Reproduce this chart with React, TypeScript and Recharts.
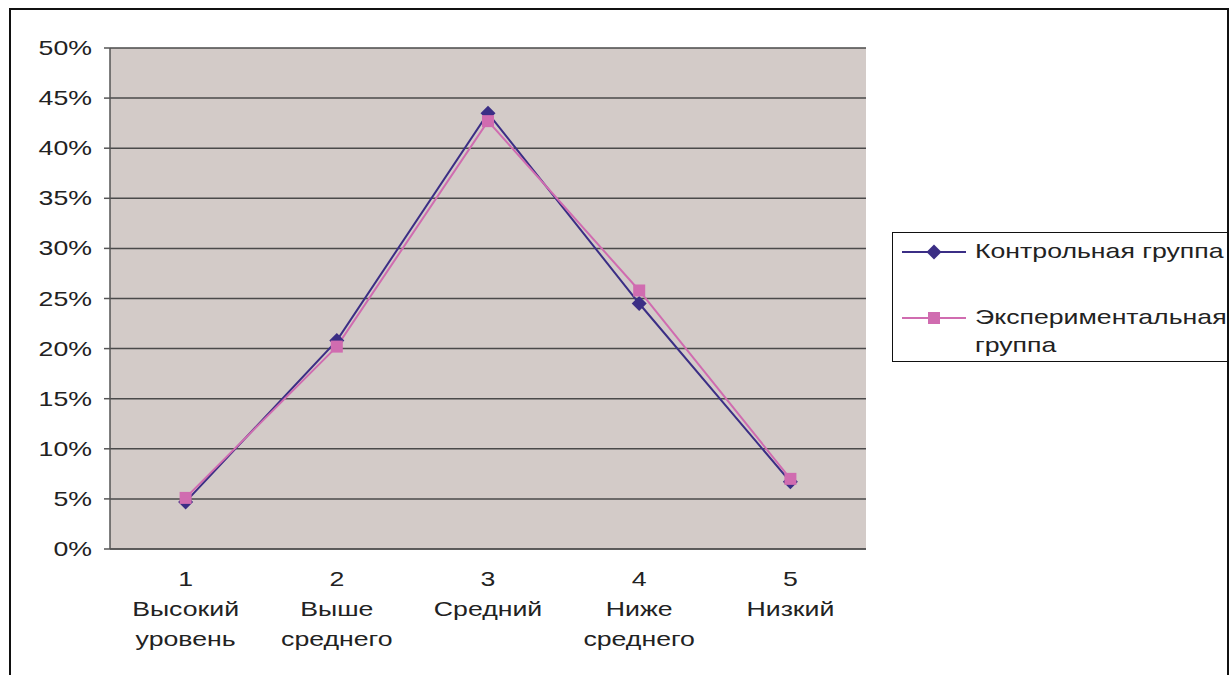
import React from "react";
import {
  LineChart,
  Line,
  XAxis,
  YAxis,
  CartesianGrid,
} from "recharts";

const levelNumbers = [1, 2, 3, 4, 5];
const levelNames = [
  ["Высокий", "уровень"],
  ["Выше", "среднего"],
  ["Средний"],
  ["Ниже", "среднего"],
  ["Низкий"],
];
const controlGroup = [0.047, 0.208, 0.435, 0.245, 0.067];
const experimentalGroup = [0.051, 0.202, 0.427, 0.258, 0.07];
const yTicks = [0, 0.05, 0.1, 0.15, 0.2, 0.25, 0.3, 0.35, 0.4, 0.45, 0.5];
const boundaryTicks = [0.5, 1.5, 2.5, 3.5, 4.5, 5.5];

const NAVY = "#3b2e85";
const PINK = "#d06cb0";
const FONT = "'Liberation Sans', Arial, sans-serif";
// the original text is drawn horizontally stretched
const STRETCH = 1.27;

const data = levelNumbers.map((n, i) => ({
  x: n,
  control: controlGroup[i],
  experimental: experimentalGroup[i],
}));

function Diamond({ cx, cy }: any) {
  if (cx == null || cy == null) return null;
  const r = 7.5;
  return (
    <polygon
      points={`${cx},${cy - r} ${cx + r},${cy} ${cx},${cy + r} ${cx - r},${cy}`}
      fill={NAVY}
    />
  );
}

function Square({ cx, cy }: any) {
  if (cx == null || cy == null) return null;
  const s = 12;
  return <rect x={cx - s / 2} y={cy - s / 2} width={s} height={s} fill={PINK} />;
}

function StretchText({ x, y, anchor, children }: any) {
  return (
    <text
      transform={`translate(${x},${y}) scale(${STRETCH},1)`}
      textAnchor={anchor}
      fontSize={21}
      fontFamily={FONT}
      fill="#222"
    >
      {children}
    </text>
  );
}

function LevelTick({ x, y, payload }: any) {
  const idx = levelNumbers.indexOf(payload.value);
  const lines = [String(payload.value), ...(levelNames[idx] ?? [])];
  return (
    <g>
      {lines.map((t, i) => (
        <StretchText key={i} x={x} y={y + 28 + i * 30} anchor="middle">
          {t}
        </StretchText>
      ))}
    </g>
  );
}

function PercentTick({ x, y, payload }: any) {
  return (
    <StretchText x={x} y={y + 7} anchor="end">
      {`${Math.round(payload.value * 100)}%`}
    </StretchText>
  );
}

const stretchStyle: React.CSSProperties = {
  display: "inline-block",
  transform: `scaleX(${STRETCH})`,
  transformOrigin: "left center",
  whiteSpace: "nowrap",
};

function LegendBox() {
  return (
    <div
      style={{
        position: "absolute",
        left: 892,
        top: 232,
        width: 336,
        height: 130,
        border: "1.5px solid #111",
        background: "#fff",
        fontFamily: FONT,
        fontSize: 21,
        color: "#222",
        boxSizing: "border-box",
      }}
    >
      <svg width={80} height={128} style={{ position: "absolute", left: 0, top: 0 }}>
        <line x1={9} x2={73} y1={19} y2={19} stroke={NAVY} strokeWidth={2} />
        <Diamond cx={41} cy={19} />
        <line x1={9} x2={73} y1={85} y2={85} stroke={PINK} strokeWidth={2} />
        <Square cx={41} cy={85} />
      </svg>
      <div style={{ position: "absolute", left: 82, top: 6, lineHeight: "24px" }}>
        <span style={stretchStyle}>Контрольная группа</span>
      </div>
      <div style={{ position: "absolute", left: 82, top: 70, lineHeight: "28px" }}>
        <span style={stretchStyle}>Экспериментальная</span>
        <br />
        <span style={stretchStyle}>группа</span>
      </div>
    </div>
  );
}

export default function App() {
  return (
    <div
      style={{
        position: "absolute",
        left: 0,
        top: 0,
        width: 1231,
        height: 675,
        background: "#fff",
        overflow: "hidden",
      }}
    >
      <div
        style={{
          position: "absolute",
          left: 9,
          top: 8,
          width: 1220,
          height: 720,
          border: "2px solid #111",
          boxSizing: "border-box",
        }}
      />
      <div style={{ position: "absolute", left: 0, top: 0 }}>
        <LineChart
          width={1231}
          height={675}
          data={data}
          margin={{ top: 48, right: 365, bottom: 0, left: 0 }}
        >
          <CartesianGrid
            horizontal
            vertical={false}
            fill="#d3cbc8"
            stroke="#4a4a4a"
            strokeWidth={1.5}
          />
          <XAxis
            xAxisId="bounds"
            dataKey="x"
            type="number"
            domain={[0.5, 5.5]}
            ticks={boundaryTicks}
            tick={false}
            tickSize={9}
            stroke="#555"
            strokeWidth={1.5}
            height={1}
          />
          <XAxis
            xAxisId="labels"
            dataKey="x"
            type="number"
            domain={[0.5, 5.5]}
            ticks={levelNumbers}
            axisLine={false}
            tickLine={false}
            tick={<LevelTick />}
            height={125}
            interval={0}
          />
          <YAxis
            type="number"
            domain={[0, 0.5]}
            ticks={yTicks}
            tick={<PercentTick />}
            tickSize={6}
            tickMargin={12}
            stroke="#555"
            strokeWidth={1.5}
            width={110}
            interval={0}
          />
          <Line
            xAxisId="labels"
            dataKey="control"
            name="Контрольная группа"
            stroke={NAVY}
            strokeWidth={2}
            dot={<Diamond />}
            activeDot={false}
            isAnimationActive={false}
          />
          <Line
            xAxisId="labels"
            dataKey="experimental"
            name="Экспериментальная группа"
            stroke={PINK}
            strokeWidth={2}
            dot={<Square />}
            activeDot={false}
            isAnimationActive={false}
          />
        </LineChart>
      </div>
      <LegendBox />
    </div>
  );
}
